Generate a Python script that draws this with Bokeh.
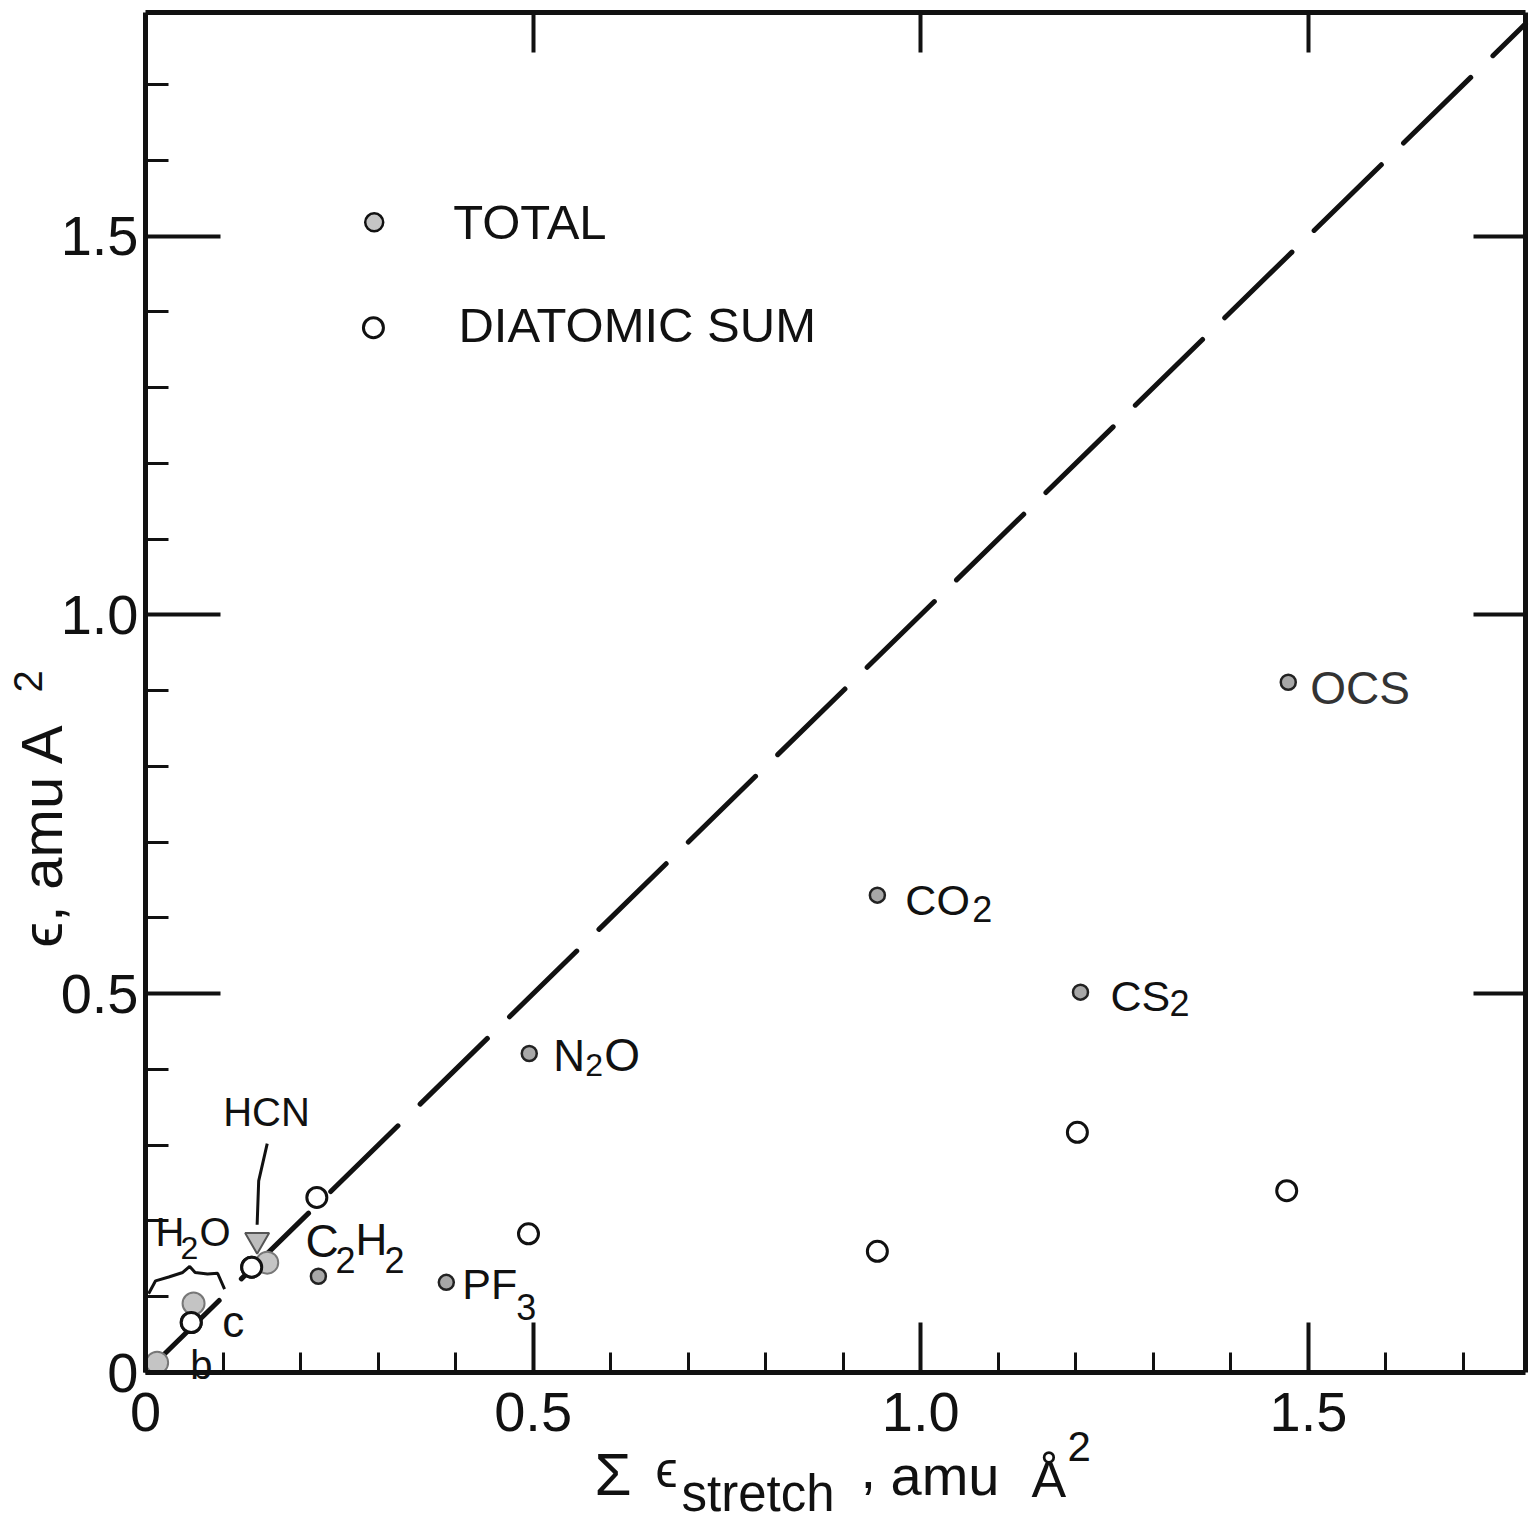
from bokeh.plotting import figure
from bokeh.models import Range1d, FixedTicker, LinearAxis, Label
from bokeh.embed import file_html
from bokeh.resources import INLINE

# ---------------- data ----------------
total_names = ["OCS", "CO2", "CS2", "N2O", "PF3", "C2H2", "HCN", "H2O", "b"]
total_x = [1.474, 0.944, 1.206, 0.495, 0.388, 0.223, 0.157, 0.062, 0.015]
total_y = [0.911, 0.630, 0.502, 0.421, 0.119, 0.127, 0.145, 0.091, 0.013]

diatomic_names = ["OCS", "CO2", "CS2", "N2O", "C2H2", "HCN", "H2O"]
diatomic_x = [1.472, 0.944, 1.202, 0.494, 0.221, 0.137, 0.059]
diatomic_y = [0.240, 0.160, 0.317, 0.183, 0.231, 0.139, 0.066]

parity_x = [0.0, 1.78]
parity_y = [0.0, 1.78]

x_axis_end = 1.78
y_axis_end = 1.795
x_major_ticks = [0, 0.5, 1.0, 1.5]
x_tick_labels = ["0", "0.5", "1.0", "1.5"]
y_major_ticks = [0, 0.5, 1.0, 1.5]
y_tick_labels = ["0", "0.5", "1.0", "1.5"]
minor_ticks = [0.1, 0.2, 0.3, 0.4, 0.6, 0.7, 0.8, 0.9, 1.1, 1.2, 1.3, 1.4, 1.6, 1.7]
frame_ticks = [0.5, 1.0, 1.5]

# HCN arrow and H2O brace (annotation shapes)
hcn_arrow_x = [0.157, 0.146, 0.144]
hcn_arrow_y = [0.302, 0.253, 0.195]
brace_x = [0.004, 0.013, 0.030, 0.048, 0.057, 0.064, 0.080, 0.093, 0.102]
brace_y = [0.104, 0.121, 0.126, 0.132, 0.140, 0.132, 0.130, 0.131, 0.110]

FONT = "Liberation Sans"
INK = "#111111"

# ---------------- geometry ----------------
W, H = 1536, 1527                 # canvas size in px
AX_LEFT, AX_BOTTOM = 145, 1372    # where the axes' origin sits on the canvas
AX_W, AX_H = 1380, 1360           # axes box size in px
ux = x_axis_end / AX_W            # data units per px
uy = y_axis_end / AX_H
x_range = Range1d(-AX_LEFT * ux, (W - AX_LEFT) * ux)
y_range = Range1d(-(H - AX_BOTTOM) * uy, AX_BOTTOM * uy)

p = figure(width=W, height=H, x_range=x_range, y_range=y_range,
           output_backend="svg", toolbar_location=None,
           x_axis_location=None, y_axis_location=None, min_border=0,
           background_fill_color="white", border_fill_color="white")
p.grid.visible = False
p.outline_line_color = None


def style_axis(ax, ticks, minor, t_in, m_in, labels, standoff, loc, bounds):
    ax.fixed_location = loc
    ax.bounds = bounds
    ax.ticker = FixedTicker(ticks=ticks, minor_ticks=minor)
    ax.axis_line_width = 5
    ax.axis_line_color = INK
    ax.major_tick_in = t_in
    ax.major_tick_out = 0
    ax.minor_tick_in = m_in
    ax.minor_tick_out = 0
    ax.major_tick_line_width = 4
    ax.minor_tick_line_width = 3
    ax.major_tick_line_color = INK
    ax.minor_tick_line_color = INK if minor else None
    ax.major_label_overrides = {t: l for t, l in zip(ticks, labels)}
    ax.major_label_text_font = FONT
    ax.major_label_text_font_size = "56px"
    ax.major_label_text_color = INK
    ax.major_label_standoff = standoff


bottom = LinearAxis()
style_axis(bottom, x_major_ticks, minor_ticks, 50, 20, x_tick_labels, 20, 0, (0, x_axis_end))
left = LinearAxis()
style_axis(left, y_major_ticks, minor_ticks, 75, 23, y_tick_labels, 7, 0, (0, y_axis_end))
top = LinearAxis()
style_axis(top, frame_ticks, [], 40, 0, ["", "", ""], 0, y_axis_end, (0, x_axis_end))
right = LinearAxis()
style_axis(right, frame_ticks, [], 52, 0, ["", "", ""], 0, x_axis_end, (0, y_axis_end))
p.add_layout(bottom, "below")
p.add_layout(left, "left")
p.add_layout(top, "above")
p.add_layout(right, "right")

# dashed parity line
p.line(parity_x, parity_y, line_color=INK, line_width=5,
       line_dash="94 31", line_dash_offset=116, line_cap="round")

# annotation shapes
p.line(hcn_arrow_x, hcn_arrow_y, line_color=INK, line_width=3)
p.scatter([hcn_arrow_x[-1]], [hcn_arrow_y[-1] - 0.02], marker="inverted_triangle",
          size=24, fill_color="#bdbdbd", line_color="#555555", line_width=2)
p.line(brace_x, brace_y, line_color=INK, line_width=3)

# diatomic sums (open circles)
p.scatter(diatomic_x, diatomic_y, marker="circle", size=20,
          fill_color="white", line_color=INK, line_width=3)

# totals (grey filled circles); the crowded low points are smudged blobs
crisp = [i for i, n in enumerate(total_names) if n not in ("HCN", "H2O", "b")]
blobs = [i for i, n in enumerate(total_names) if n in ("HCN", "H2O", "b")]
p.scatter([total_x[i] for i in blobs], [total_y[i] for i in blobs], marker="circle",
          size=22, fill_color="#c4c4c4", line_color="#777777", line_width=2)
p.scatter([total_x[i] for i in crisp], [total_y[i] for i in crisp], marker="circle",
          size=15, fill_color="#a8a8a8", line_color="#222222", line_width=2.5)

# diatomic circles drawn again on top where they overlap blobs
p.scatter(diatomic_x[5:], diatomic_y[5:], marker="circle", size=20,
          fill_color="white", line_color=INK, line_width=3)

BASELINE_FIX = 0.38   # svg text baseline correction (fraction of font size)


def put(text, x, y, dx, dy, size, angle=0.0, color=INK):
    if angle:
        dx -= BASELINE_FIX * size
    else:
        dy += BASELINE_FIX * size
    p.add_layout(Label(x=x, y=y, x_offset=dx, y_offset=dy, text=text,
                       text_font=FONT, text_font_size=f"{size}px",
                       text_color=color, text_align="left",
                       text_baseline="alphabetic", angle=angle))


ti = {n: i for i, n in enumerate(total_names)}
di = {n: i for i, n in enumerate(diatomic_names)}

# point labels: pieces (text, dx, dy, size)
point_labels = {
    "OCS": [("OCS", 22, -23, 46)],
    "CO2": [("CO", 28, -21, 43), ("2", 95, -28, 36)],
    "CS2": [("CS", 30, -20, 43), ("2", 89, -25, 36)],
    "N2O": [("N", 24, -19, 44), ("2", 56, -24, 32), ("O", 75, -19, 46)],
    "PF3": [("PF", 16, -18, 43), ("3", 70, -38, 36)],
    "C2H2": [("C", -13, 18, 46), ("2", 17, 3, 36), ("H", 37, 20, 44), ("2", 66, 3, 36)],
    "H2O": [("H", -38, 56, 40), ("2", -13, 43, 32), ("O", 6, 56, 40)],
    "HCN": [("HCN", -44, 135, 40)],
    "b": [("b", 33, -18, 40)],
}
for name, pieces in point_labels.items():
    x, y = total_x[ti[name]], total_y[ti[name]]
    for text, dx, dy, size in pieces:
        put(text, x, y, dx, dy, size, color="#333333" if name == "OCS" else INK)

# "c" label next to the H2O diatomic circle
put("c", diatomic_x[di["H2O"]], diatomic_y[di["H2O"]], 31, -16, 44)

# legend
legend_x = [0.295, 0.294]
legend_y = [1.518, 1.379]
p.scatter([legend_x[0]], [legend_y[0]], marker="circle", size=18,
          fill_color="#c4c4c4", line_color=INK, line_width=2.5)
p.scatter([legend_x[1]], [legend_y[1]], marker="circle", size=20,
          fill_color="white", line_color=INK, line_width=3)
put("TOTAL", legend_x[0], legend_y[0], 79, -18, 49)
put("DIATOMIC SUM", legend_x[1], legend_y[1], 85, -16, 49)

# axis titles (anchored at the origin of the axes)
x_title = [("Σ", 449, -125, 60), ("ϵ", 510, -116, 50), ("stretch", 536, -140, 51),
           (",", 715, -118, 56), ("amu", 745, -124, 56), ("Å", 886, -126, 52),
           ("2", 922, -90, 42)]
for text, dx, dy, size in x_title:
    put(text, 0, 0, dx, dy, size)

put("ϵ, amu A", 0, 0, -82, 425, 58, angle=1.5707963)
put("2", 0, 0, -102, 680, 40, angle=1.5707963)

open("out.html", "w").write(file_html(p, INLINE))
